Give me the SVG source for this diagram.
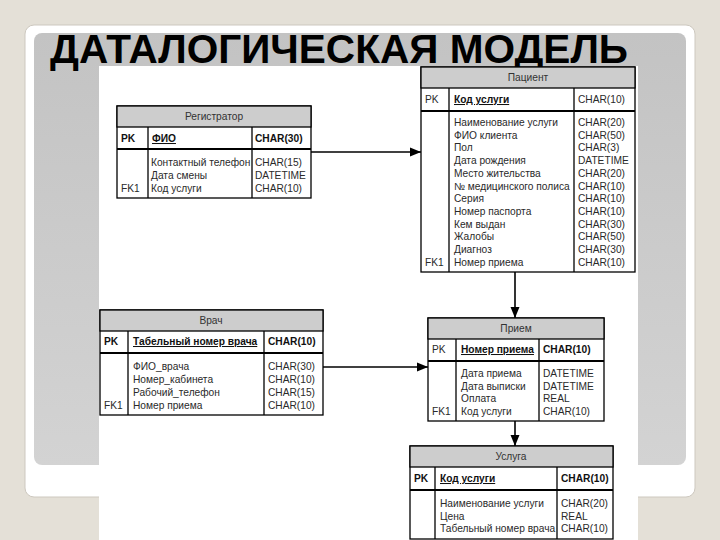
<svg xmlns="http://www.w3.org/2000/svg" width="720" height="540" viewBox="0 0 720 540">
<defs>
<linearGradient id="gr" x1="0" y1="0" x2="0" y2="1">
<stop offset="0" stop-color="#c3c3c3"/>
<stop offset="1" stop-color="#d3d3d3"/>
</linearGradient>
<marker id="ah" markerUnits="userSpaceOnUse" markerWidth="12" markerHeight="10" refX="11" refY="5" orient="auto">
<path d="M0,0.5 L11,5 L0,9.5 z" fill="#000"/>
</marker>
<style>
.box{fill:#fff;stroke:#000;stroke-width:1.3}
.hd{fill:#cdcdcd;stroke:#000;stroke-width:1.3}
.ln{stroke:#000;stroke-width:1.3}
.pk{stroke:#000;stroke-width:2.2}
.t{font-family:"Liberation Sans",Arial,sans-serif;font-size:10.2px;fill:#2a2a2a}
.h{font-family:"Liberation Sans",Arial,sans-serif;font-size:10.2px;fill:#333;text-anchor:middle}
.b{font-weight:bold;fill:#111}
.u{text-decoration:underline}
.con{stroke:#000;stroke-width:1.6;fill:none;marker-end:url(#ah)}
</style>
</defs>
<rect width="720" height="540" fill="#e4e0d7"/>
<rect x="25" y="25" width="670" height="472" rx="9" fill="#fff" stroke="#cdc8bf" stroke-width="1"/>
<rect x="34" y="33" width="652" height="432" rx="8" fill="url(#gr)"/>
<rect x="99" y="66" width="539" height="474" fill="#fff"/>
<text x="50" y="63" font-family="'Liberation Sans',Arial,sans-serif" font-size="40" font-weight="bold" fill="#000" textLength="578" lengthAdjust="spacingAndGlyphs">ДАТАЛОГИЧЕСКАЯ МОДЕЛЬ</text>

<g id="connectors">
<line class="con" x1="311" y1="152" x2="421" y2="152"/>
<line class="con" x1="515" y1="272" x2="515" y2="318"/>
<line class="con" x1="323" y1="367" x2="428" y2="367"/>
<line class="con" x1="515" y1="421" x2="515" y2="446"/>
</g>

<g id="registrator">
<rect class="box" x="117" y="106" width="194" height="92"/>
<rect class="hd" x="117" y="106" width="194" height="21"/>
<line class="pk" x1="117" y1="149" x2="311" y2="149"/>
<line class="ln" x1="148" y1="127" x2="148" y2="198"/>
<line class="ln" x1="252" y1="127" x2="252" y2="198"/>
<text class="h" x="214" y="120">Регистратор</text>
<text class="t b" x="121" y="142">PK</text>
<text class="t b u" x="152" y="142">ФИО</text>
<text class="t b" x="255" y="142">CHAR(30)</text>
<text class="t" x="151" y="166">Контактный телефон</text>
<text class="t" x="151" y="179">Дата смены</text>
<text class="t" x="121" y="192">FK1</text>
<text class="t" x="151" y="192">Код услуги</text>
<text class="t" x="255" y="166">CHAR(15)</text>
<text class="t" x="255" y="179">DATETIME</text>
<text class="t" x="255" y="192">CHAR(10)</text>
</g>

<g id="patient">
<rect class="box" x="421" y="67" width="214" height="205"/>
<rect class="hd" x="421" y="67" width="214" height="21"/>
<line class="pk" x1="421" y1="111" x2="635" y2="111"/>
<line class="ln" x1="449" y1="88" x2="449" y2="272"/>
<line class="ln" x1="574" y1="88" x2="574" y2="272"/>
<text class="h" x="528" y="81">Пациент</text>
<text class="t" x="425" y="103">PK</text>
<text class="t b u" x="454" y="103">Код услуги</text>
<text class="t" x="578" y="103">CHAR(10)</text>
<text class="t" x="454" y="126">Наименование услуги</text>
<text class="t" x="454" y="138.7">ФИО клиента</text>
<text class="t" x="454" y="151.4">Пол</text>
<text class="t" x="454" y="164.1">Дата рождения</text>
<text class="t" x="454" y="176.8">Место жительства</text>
<text class="t" x="454" y="189.5">№ медицинского полиса</text>
<text class="t" x="454" y="202.2">Серия</text>
<text class="t" x="454" y="214.9">Номер паспорта</text>
<text class="t" x="454" y="227.6">Кем выдан</text>
<text class="t" x="454" y="240.3">Жалобы</text>
<text class="t" x="454" y="253">Диагноз</text>
<text class="t" x="425" y="265.7">FK1</text>
<text class="t" x="454" y="265.7">Номер приема</text>
<text class="t" x="578" y="126">CHAR(20)</text>
<text class="t" x="578" y="138.7">CHAR(50)</text>
<text class="t" x="578" y="151.4">CHAR(3)</text>
<text class="t" x="578" y="164.1">DATETIME</text>
<text class="t" x="578" y="176.8">CHAR(20)</text>
<text class="t" x="578" y="189.5">CHAR(10)</text>
<text class="t" x="578" y="202.2">CHAR(10)</text>
<text class="t" x="578" y="214.9">CHAR(10)</text>
<text class="t" x="578" y="227.6">CHAR(30)</text>
<text class="t" x="578" y="240.3">CHAR(50)</text>
<text class="t" x="578" y="253">CHAR(30)</text>
<text class="t" x="578" y="265.7">CHAR(10)</text>
</g>

<g id="doctor">
<rect class="box" x="100" y="310" width="223" height="105"/>
<rect class="hd" x="100" y="310" width="223" height="21"/>
<line class="pk" x1="100" y1="353" x2="323" y2="353"/>
<line class="ln" x1="128" y1="331" x2="128" y2="415"/>
<line class="ln" x1="264" y1="331" x2="264" y2="415"/>
<text class="h" x="211" y="324">Врач</text>
<text class="t b" x="104" y="345">PK</text>
<text class="t b u" x="133" y="345">Табельный номер врача</text>
<text class="t b" x="268" y="345">CHAR(10)</text>
<text class="t" x="133" y="370">ФИО_врача</text>
<text class="t" x="133" y="383">Номер_кабинета</text>
<text class="t" x="133" y="396">Рабочий_телефон</text>
<text class="t" x="104" y="409">FK1</text>
<text class="t" x="133" y="409">Номер приема</text>
<text class="t" x="268" y="370">CHAR(30)</text>
<text class="t" x="268" y="383">CHAR(10)</text>
<text class="t" x="268" y="396">CHAR(15)</text>
<text class="t" x="268" y="409">CHAR(10)</text>
</g>

<g id="reception">
<rect class="box" x="428" y="318" width="176" height="103"/>
<rect class="hd" x="428" y="318" width="176" height="21"/>
<line class="pk" x1="428" y1="361" x2="604" y2="361"/>
<line class="ln" x1="456" y1="339" x2="456" y2="421"/>
<line class="ln" x1="539" y1="339" x2="539" y2="421"/>
<text class="h" x="516" y="332">Прием</text>
<text class="t" x="432" y="353">PK</text>
<text class="t b u" x="461" y="353">Номер приема</text>
<text class="t b" x="543" y="353">CHAR(10)</text>
<text class="t" x="461" y="377">Дата приема</text>
<text class="t" x="461" y="389.5">Дата выписки</text>
<text class="t" x="461" y="402">Оплата</text>
<text class="t" x="432" y="414.5">FK1</text>
<text class="t" x="461" y="414.5">Код услуги</text>
<text class="t" x="543" y="377">DATETIME</text>
<text class="t" x="543" y="389.5">DATETIME</text>
<text class="t" x="543" y="402">REAL</text>
<text class="t" x="543" y="414.5">CHAR(10)</text>
</g>

<g id="service">
<rect class="box" x="410" y="446" width="203" height="93"/>
<rect class="hd" x="410" y="446" width="203" height="21"/>
<line class="pk" x1="410" y1="490" x2="613" y2="490"/>
<line class="ln" x1="435" y1="467" x2="435" y2="539"/>
<line class="ln" x1="557" y1="467" x2="557" y2="539"/>
<text class="h" x="511" y="460">Услуга</text>
<text class="t b" x="414" y="482">PK</text>
<text class="t b u" x="440" y="482">Код услуги</text>
<text class="t b" x="561" y="482">CHAR(10)</text>
<text class="t" x="440" y="507">Наименование услуги</text>
<text class="t" x="440" y="520">Цена</text>
<text class="t" x="440" y="532">Табельный номер врача</text>
<text class="t" x="561" y="507">CHAR(20)</text>
<text class="t" x="561" y="520">REAL</text>
<text class="t" x="561" y="532">CHAR(10)</text>
</g>
</svg>
